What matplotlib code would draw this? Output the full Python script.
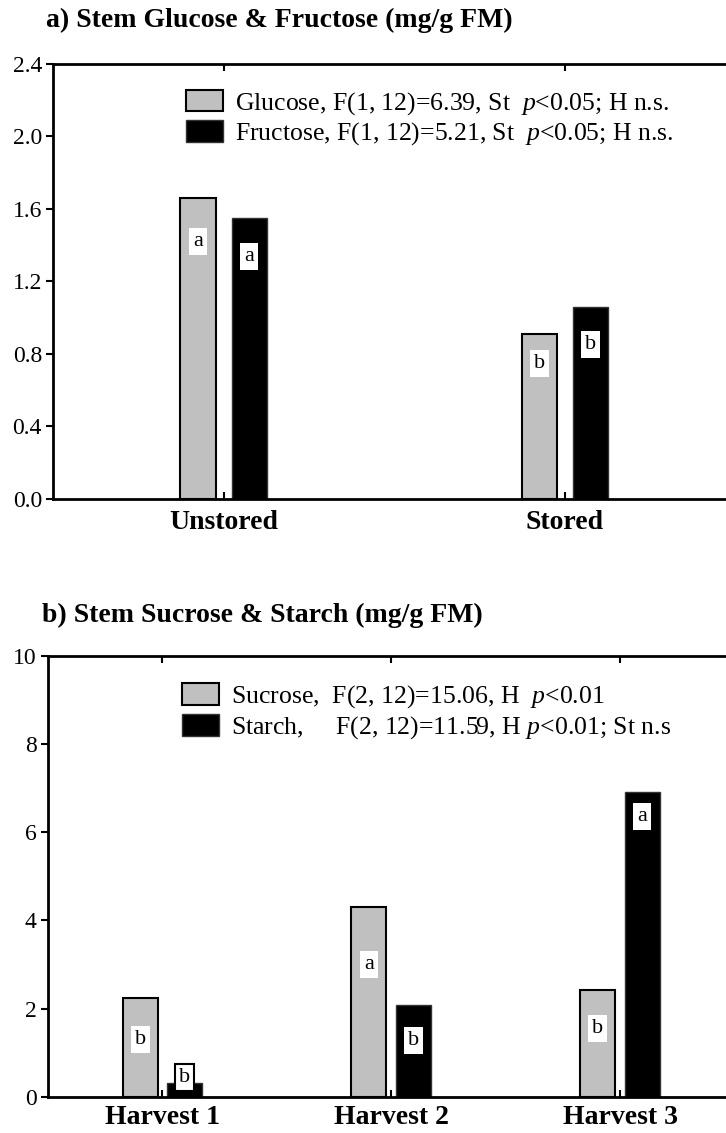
import matplotlib
matplotlib.use('Agg')
import matplotlib.pyplot as plt
import numpy as np

# panel a data
storage = ['Unstored', 'Stored']
glucose = [1.66, 0.91]
fructose = [1.55, 1.06]
glu_letters = ['a', 'b']
fru_letters = ['a', 'b']
glu_letter_y = [1.42, 0.75]
fru_letter_y = [1.34, 0.85]

# panel b data
harvest = ['Harvest 1', 'Harvest 2', 'Harvest 3']
sucrose = [2.25, 4.30, 2.43]
starch = [0.32, 2.08, 6.90]
suc_letters = ['b', 'a', 'b']
sta_letters = ['b', 'b', 'a']
suc_letter_y = [1.30, 3.00, 1.56]
sta_letter_y = [0.45, 1.27, 6.36]

plt.rcParams['font.family'] = ['Liberation Serif', 'DejaVu Serif']
plt.rcParams['mathtext.fontset'] = 'custom'
plt.rcParams['mathtext.rm'] = 'Liberation Serif'
plt.rcParams['mathtext.it'] = 'Liberation Serif:italic'

GRAY = '#c0c0c0'

fig = plt.figure(figsize=(7.26, 11.33), dpi=100)
ax1 = fig.add_axes([0.073, 0.5596, 0.940, 0.384])
ax2 = fig.add_axes([0.066, 0.0318, 0.9456, 0.3895])


def style_axes(ax, ncat, ylim, yticks, fmt, xpad):
    ax.set_xlim(-0.5, ncat - 0.5)
    ax.set_ylim(*ylim)
    ax.set_yticks(yticks)
    ax.set_yticklabels([fmt % v for v in yticks], fontsize=17)
    ax.tick_params(axis='y', direction='out', length=5, width=1.5, pad=3)
    ax.tick_params(axis='x', direction='in', top=True, length=5, width=1.5,
                   pad=xpad, labelsize=20)
    for lab in ax.get_xticklabels():
        lab.set_fontweight('bold')
    ax.spines['right'].set_visible(False)
    for s in ('left', 'top', 'bottom'):
        ax.spines[s].set_linewidth(2)


def letter(ax, x, y, s, boxed=False):
    ax.text(x, y, s, ha='center', va='center', fontsize=16,
            bbox=dict(boxstyle='square,pad=0.18', facecolor='white',
                      edgecolor='black' if boxed else 'none', linewidth=1.5))


leg_kw = dict(loc='upper left', frameon=False, fontsize=18.5,
              handlelength=1.44, handleheight=0.9, labelspacing=0.15,
              handletextpad=0.47, borderpad=0, borderaxespad=0)

# ---- panel a ----
x = np.arange(len(storage))
w, off = 0.103, 0.075
ax1.bar(x - off, glucose, w, color=GRAY, edgecolor='black', linewidth=1.5,
        label=r'Glucose, F(1, 12)=6.39, St  $p$<0.05; H n.s.')
ax1.bar(x + off, fructose, w, color='black', edgecolor='#333333', linewidth=1,
        label=r'Fructose, F(1, 12)=5.21, St  $p$<0.05; H n.s.')
for i in range(len(storage)):
    letter(ax1, x[i] - off, glu_letter_y[i], glu_letters[i])
    letter(ax1, x[i] + off, fru_letter_y[i], fru_letters[i])
ax1.set_xticks(x)
ax1.set_xticklabels(storage)
style_axes(ax1, len(storage), (0, 2.4), [0, 0.4, 0.8, 1.2, 1.6, 2.0, 2.4], '%.1f', 8)
ax1.legend(bbox_to_anchor=(0.195, 0.941), **leg_kw)
fig.text(0.063, 0.982, 'a) Stem Glucose & Fructose (mg/g FM)', fontsize=20,
         fontweight='bold', ha='left', va='center')

# ---- panel b ----
x = np.arange(len(harvest))
w, off = 0.153, 0.097
ax2.bar(x - off, sucrose, w, color=GRAY, edgecolor='black', linewidth=1.5,
        label=r'Sucrose,  F(2, 12)=15.06, H  $p$<0.01')
ax2.bar(x + off, starch, w, color='black', edgecolor='#333333', linewidth=1,
        label=r'Starch,     F(2, 12)=11.59, H $p$<0.01; St n.s')
for i in range(len(harvest)):
    letter(ax2, x[i] - off, suc_letter_y[i], suc_letters[i])
    letter(ax2, x[i] + off, sta_letter_y[i], sta_letters[i],
           boxed=sta_letter_y[i] + 0.35 > starch[i])
ax2.set_xticks(x)
ax2.set_xticklabels(harvest)
style_axes(ax2, len(harvest), (0, 10), [0, 2, 4, 6, 8, 10], '%d', 6)
ax2.legend(bbox_to_anchor=(0.195, 0.937), **leg_kw)
fig.text(0.058, 0.457, 'b) Stem Sucrose & Starch (mg/g FM)', fontsize=20,
         fontweight='bold', ha='left', va='center')

fig.savefig('out.png', dpi=100)
